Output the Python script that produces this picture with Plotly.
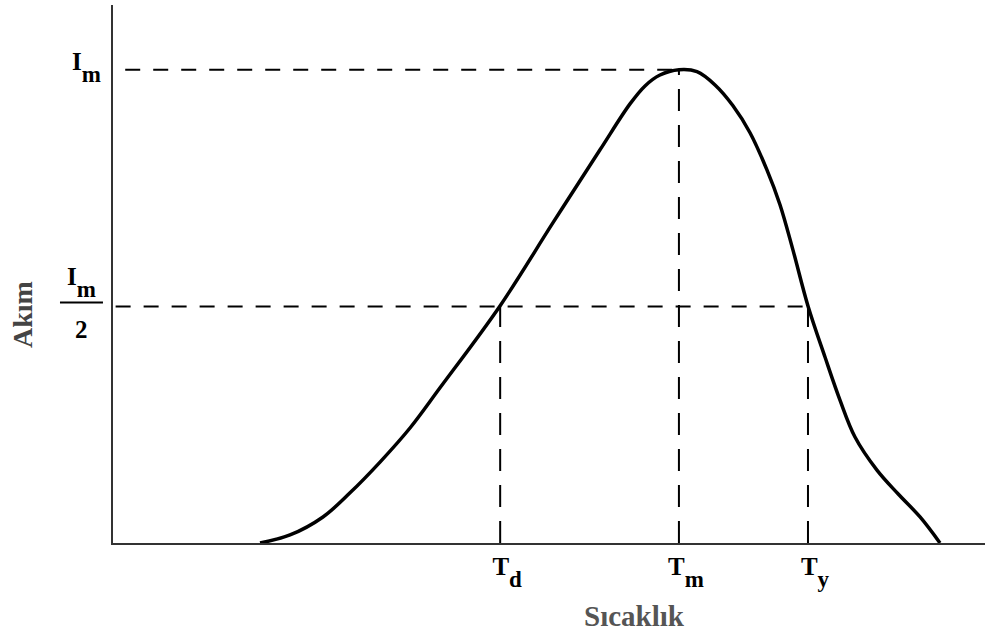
import plotly.graph_objects as go

# Curve: current (Akım) vs temperature (Sıcaklık), arbitrary units
temp = [16.86, 20.30, 24.08, 27.18, 30.62, 34.06, 37.50, 44.38, 50.46,
        55.85, 59.29, 61.01, 62.73, 64.91, 66.97, 69.04, 71.10, 73.05, 74.98,
        76.49, 77.98, 79.70, 81.65, 83.37, 85.09, 87.61, 90.02, 92.55, 94.84]
current = [0.0, 0.017, 0.055, 0.106, 0.171, 0.243, 0.328, 0.501, 0.677,
           0.831, 0.928, 0.966, 0.989, 1.0, 0.996, 0.968, 0.924, 0.867, 0.789,
           0.715, 0.619, 0.501, 0.393, 0.302, 0.224, 0.154, 0.104, 0.055, 0.0]

# Characteristic temperatures and currents
x_tick_vals = [44.4, 64.9, 79.7]          # Td, Tm, Ty
def sub(s):
    return '<sub><span style="font-size:23px;baseline-shift:-7px">' + s + "</span></sub>"
x_tick_text = ["<b>T" + sub("d") + "</b>", "<b>T" + sub("m") + "</b>",
               "<b>T" + sub("y") + "</b>"]
Im = 1.0
y_tick_vals = [Im / 2, Im]
y_tick_num = "<b>I" + sub("m") + "</b>"
y_tick_den = "<b>2</b>"
x_title = "Sıcaklık"
y_title = "Akım"

X_RANGE = [0, 100]
Y_RANGE = [0, 1.137]

SERIF = "Liberation Serif, Times New Roman, serif"

fig = go.Figure()
fig.add_trace(go.Scatter(
    x=temp, y=current, mode="lines",
    line=dict(color="black", width=3.5, shape="spline", smoothing=1.0),
    hoverinfo="skip", showlegend=False,
))

dash_h = "15px,13px"
dash_v = "22px,14px"
Td, Tm, Ty = x_tick_vals
shapes = [
    dict(type="line", xref="x", yref="y", x0=1.4, x1=Tm, y0=Im, y1=Im,
         line=dict(color="black", width=2, dash=dash_h)),
    dict(type="line", xref="x", yref="y", x0=0.3, x1=Ty, y0=Im / 2, y1=Im / 2,
         line=dict(color="black", width=2, dash=dash_h)),
    dict(type="line", xref="x", yref="y", x0=Td, x1=Td, y0=0, y1=Im / 2,
         line=dict(color="black", width=2, dash=dash_v)),
    dict(type="line", xref="x", yref="y", x0=Tm, x1=Tm, y0=0, y1=Im,
         line=dict(color="black", width=2, dash=dash_v)),
    dict(type="line", xref="x", yref="y", x0=Ty, x1=Ty, y0=0, y1=Im / 2,
         line=dict(color="black", width=2, dash=dash_v)),
    # fraction bar for Im/2 label
    dict(type="line", xref="paper", yref="y", ysizemode="pixel", yanchor=y_tick_vals[0],
         x0=-0.0608, x1=-0.0115, y0=4, y1=4,
         line=dict(color="black", width=2)),
]

annotations = [
    dict(xref="paper", yref="y", x=0, y=y_tick_vals[1], xanchor="right", yanchor="middle",
         xshift=-10, yshift=2, showarrow=False,
         text=y_tick_num, font=dict(family=SERIF, size=25, color="black")),
    dict(xref="paper", yref="y", x=-0.0362, y=y_tick_vals[0], xanchor="center", yanchor="bottom",
         yshift=2, showarrow=False,
         text=y_tick_num, font=dict(family=SERIF, size=25, color="black")),
    dict(xref="paper", yref="y", x=-0.0362, y=y_tick_vals[0], xanchor="center", yanchor="top",
         yshift=-8, showarrow=False,
         text=y_tick_den, font=dict(family=SERIF, size=25, color="black")),
    dict(xref="paper", yref="paper", x=0.5986, y=-0.1357, xanchor="center", yanchor="middle",
         showarrow=False, text="<b>" + x_title + "</b>",
         font=dict(family=SERIF, size=29, color="#555555")),
    dict(xref="paper", yref="paper", x=-0.1032, y=0.4238, xanchor="center", yanchor="middle",
         showarrow=False, textangle=-90, text="<b>" + y_title + "</b>",
         font=dict(family=SERIF, size=28, color="#444444")),
]

fig.update_layout(
    width=985, height=635,
    margin=dict(l=113, r=0, t=5, b=92),
    paper_bgcolor="white", plot_bgcolor="white",
    shapes=shapes, annotations=annotations,
    showlegend=False,
    xaxis=dict(range=X_RANGE, showgrid=False, zeroline=False,
               showline=True, linecolor="#333333", linewidth=2,
               tickvals=x_tick_vals, ticktext=x_tick_text, ticks="",
               ticklabelshift=7,
               tickfont=dict(family=SERIF, size=25, color="black")),
    yaxis=dict(range=Y_RANGE, showgrid=False, zeroline=False,
               showline=True, linecolor="#333333", linewidth=2,
               showticklabels=False, ticks=""),
)

fig.write_html("out.html")
